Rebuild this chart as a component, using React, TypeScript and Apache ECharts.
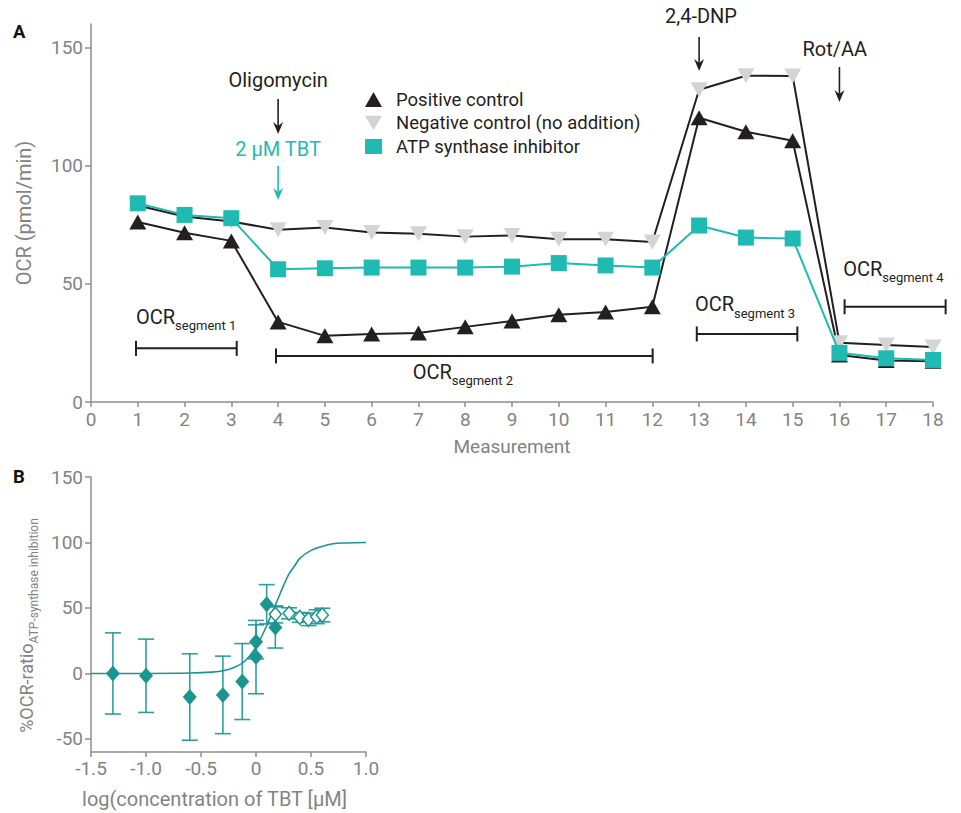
import React, { useEffect, useRef } from "react";
import * as echarts from "echarts";

// ---------- Panel A data ----------
const measurements = [1, 2, 3, 4, 5, 6, 7, 8, 9, 10, 11, 12, 13, 14, 15, 16, 17, 18];
const positiveControl = [76.2, 71.6, 68.2, 33.9, 28.0, 28.8, 29.2, 31.8, 34.3, 36.9, 38.1, 40.3, 120.3, 114.4, 110.6, 19.9, 17.6, 17.3];
const negativeControl = [83.2, 78.5, 76.4, 72.9, 73.9, 71.7, 71.2, 70.0, 70.5, 68.9, 68.9, 67.7, 132.2, 138.1, 138.0, 25.1, 24.1, 23.3];
const atpSynthaseInhibitor = [84.1, 79.2, 77.8, 56.2, 56.6, 56.9, 56.9, 56.9, 57.3, 58.8, 57.8, 56.9, 74.7, 69.6, 69.2, 20.8, 18.5, 17.8];
const seriesNamesA = ["Positive control", "Negative control (no addition)", "ATP synthase inhibitor"];
const yTicksA = [0, 50, 100, 150];

// ---------- Panel B data ----------
const tbtLogConc = [-1.301, -1.0, -0.602, -0.301, -0.125, 0, 0, 0.097, 0.176];
const inhibitionMean = [0, -1.8, -18.0, -16.4, -6.2, 12.5, 24.1, 52.8, 35.1];
const inhibitionErr = [31, 28, 33, 29.6, 29, 28, 13, 15, 15.7];
const tbtLogConcHigh = [0.176, 0.301, 0.398, 0.477, 0.552, 0.603];
const inhibitionHigh = [45.1, 45.9, 42.8, 41.3, 43.3, 44.6];
const inhibitionHighErr = [6.5, 4.2, 3.7, 4.8, 5.3, 5.2];
const fitLogConc = [-1.5, -1.0, -0.6, -0.4, -0.3, -0.2, -0.1, 0, 0.05, 0.1, 0.15, 0.2, 0.25, 0.3, 0.35, 0.4, 0.5, 0.6, 0.7, 0.8, 1.0];
const fitInhibition = [0, 0, 0.3, 1, 2, 4.5, 9.5, 20, 28, 37, 47, 57, 67, 76, 82, 88, 94, 97, 99, 99.6, 100];
const yTicksB = [-50, 0, 50, 100, 150];

// ---------- Colours ----------
const BLACK = "#231f20";
const GRAY_MARK = "#d4d4d4";
const TEAL_A = "#1fbab1";
const TEAL_B = "#1b9590";
const AXIS = "#8e8e8e";
const LABEL = "#838383";
const FONT = "Roboto";

// ---------- Annotations (panel A, data coordinates) ----------
const injectionLabels = [
  { text: "Oligomycin", x: 4, y: 136.2, color: BLACK },
  { text: "2 µM TBT", x: 4, y: 106.9, color: TEAL_A },
  { text: "2,4-DNP", x: 13.04, y: 163.2, color: BLACK },
  { text: "Rot/AA", x: 15.9, y: 149.6, color: BLACK },
];
const injectionArrows = [
  { x: 4, yTop: 128.3, yBottom: 113.4, color: BLACK },
  { x: 4, yTop: 99.9, yBottom: 85.5, color: TEAL_A },
  { x: 13, yTop: 154.5, yBottom: 140.1, color: BLACK },
  { x: 16, yTop: 141.8, yBottom: 127.0, color: BLACK },
];
const segmentBrackets = [
  { x1: 0.962, x2: 3.115, y: 22.7 },
  { x1: 3.955, x2: 12.007, y: 19.5 },
  { x1: 12.95, x2: 15.1, y: 28.8 },
  { x1: 16.11, x2: 18.27, y: 40.3 },
];
const segmentLabels = [
  { sub: "segment 1", x: 0.962, y: 36.0 },
  { sub: "segment 2", x: 6.877, y: 12.8 },
  { sub: "segment 3", x: 12.91, y: 41.3 },
  { sub: "segment 4", x: 16.08, y: 56.3 },
];

type Annot =
  | { kind: "label"; i: number }
  | { kind: "arrow"; i: number }
  | { kind: "bracket"; i: number }
  | { kind: "segment"; i: number };

const annots: Annot[] = [
  ...injectionLabels.map((_, i) => ({ kind: "label" as const, i })),
  ...injectionArrows.map((_, i) => ({ kind: "arrow" as const, i })),
  ...segmentBrackets.map((_, i) => ({ kind: "bracket" as const, i })),
  ...segmentLabels.map((_, i) => ({ kind: "segment" as const, i })),
];

function renderAnnotation(params: any, api: any) {
  const a = annots[params.dataIndex];
  if (a.kind === "label") {
    const l = injectionLabels[a.i];
    const p = api.coord([l.x, l.y]);
    return {
      type: "text",
      x: p[0],
      y: p[1],
      style: { text: l.text, fill: l.color, fontSize: 20, fontFamily: FONT, align: "center", verticalAlign: "middle" },
    };
  }
  if (a.kind === "arrow") {
    const r = injectionArrows[a.i];
    const t = api.coord([r.x, r.yTop]);
    const b = api.coord([r.x, r.yBottom]);
    const x = t[0];
    return {
      type: "group",
      children: [
        { type: "line", shape: { x1: x, y1: t[1], x2: x, y2: b[1] - 6 }, style: { stroke: r.color, lineWidth: 1.6 } },
        {
          type: "polygon",
          shape: { points: [[x, b[1]], [x - 5, b[1] - 12], [x, b[1] - 8], [x + 5, b[1] - 12]] },
          style: { fill: r.color },
        },
      ],
    };
  }
  if (a.kind === "bracket") {
    const br = segmentBrackets[a.i];
    const l = api.coord([br.x1, br.y]);
    const r = api.coord([br.x2, br.y]);
    const st = { stroke: BLACK, lineWidth: 2 };
    return {
      type: "group",
      children: [
        { type: "line", shape: { x1: l[0], y1: l[1], x2: r[0], y2: r[1] }, style: st },
        { type: "line", shape: { x1: l[0], y1: l[1] - 7.5, x2: l[0], y2: l[1] + 7.5 }, style: st },
        { type: "line", shape: { x1: r[0], y1: r[1] - 7.5, x2: r[0], y2: r[1] + 7.5 }, style: st },
      ],
    };
  }
  const s = segmentLabels[a.i];
  const p = api.coord([s.x, s.y]);
  return {
    type: "text",
    x: p[0],
    y: p[1],
    style: {
      text: `{m|OCR}{s|${s.sub}}`,
      fill: BLACK,
      align: "left",
      verticalAlign: "middle",
      rich: {
        m: { fontSize: 20, fontFamily: FONT, fill: BLACK, color: BLACK },
        s: { fontSize: 13, fontFamily: FONT, fill: BLACK, color: BLACK, padding: [18, 0, 0, 0] },
      },
    },
  };
}

function errorBars(xs: number[], ys: number[], es: number[]) {
  return xs.map((x, i) => [x, ys[i], es[i]]);
}

function renderErrorBar(params: any, api: any) {
  const x = api.value(0);
  const y = api.value(1);
  const e = api.value(2);
  const top = api.coord([x, y + e]);
  const bot = api.coord([x, y - e]);
  const hw = 8;
  const st = { stroke: TEAL_B, lineWidth: 1.6, opacity: 0.9 };
  return {
    type: "group",
    children: [
      { type: "line", shape: { x1: top[0], y1: top[1], x2: bot[0], y2: bot[1] }, style: st },
      { type: "line", shape: { x1: top[0] - hw, y1: top[1], x2: top[0] + hw, y2: top[1] }, style: st },
      { type: "line", shape: { x1: bot[0] - hw, y1: bot[1], x2: bot[0] + hw, y2: bot[1] }, style: st },
    ],
  };
}

const axisLineStyle = { color: AXIS, width: 1.5 };
const labelStyle = { fontSize: 19, color: LABEL, fontFamily: FONT };
const nameStyle = { fontSize: 20, color: LABEL, fontFamily: FONT };

const DOWN_TRIANGLE = "path://M0,0L20,0L10,17Z";

const option: any = {
  animation: false,
  backgroundColor: "#fff",
  textStyle: { fontFamily: FONT },
  grid: [
    { left: 91, right: 28, top: 24, bottom: 411 },
    { left: 91, right: 595, top: 477, bottom: 61 },
  ],
  legend: {
    left: 360,
    top: 85,
    orient: "vertical",
    itemWidth: 17,
    itemHeight: 15,
    itemGap: 4.5,
    selectedMode: false,
    itemStyle: { borderWidth: 0 },
    textStyle: { fontSize: 18.5, color: BLACK, fontFamily: FONT, padding: [0, 0, 0, 9], lineHeight: 18 },
    data: [
      { name: seriesNamesA[0], icon: "triangle" },
      { name: seriesNamesA[1], icon: DOWN_TRIANGLE },
      { name: seriesNamesA[2], icon: "rect" },
    ],
  },
  xAxis: [
    {
      type: "value",
      gridIndex: 0,
      min: 0,
      max: 18,
      interval: 1,
      name: "Measurement",
      nameLocation: "middle",
      nameGap: 35,
      nameTextStyle: { ...nameStyle, fontSize: 19 },
      axisLine: { show: true, lineStyle: axisLineStyle },
      axisTick: { show: true, length: 5, lineStyle: axisLineStyle },
      axisLabel: { ...labelStyle, margin: 8 },
      splitLine: { show: false },
    },
    {
      type: "value",
      gridIndex: 1,
      min: -1.5,
      max: 1.0,
      interval: 0.5,
      name: "log(concentration of TBT [µM]",
      nameLocation: "middle",
      nameGap: 37,
      nameTextStyle: { ...nameStyle, padding: [0, 28, 0, 0] },
      axisLine: { show: true, onZero: false, lineStyle: axisLineStyle },
      axisTick: { show: true, length: 5, lineStyle: axisLineStyle },
      axisLabel: {
        ...labelStyle,
        margin: 7,
        formatter: (v: number) => (v === 0 ? "0" : v.toFixed(1)),
      },
      splitLine: { show: false },
    },
  ],
  yAxis: [
    {
      type: "value",
      gridIndex: 0,
      min: 0,
      max: 160,
      name: "OCR (pmol/min)",
      nameLocation: "middle",
      nameRotate: 90,
      nameGap: 57,
      nameTextStyle: { ...nameStyle },
      axisLine: { show: true, lineStyle: axisLineStyle },
      axisTick: { show: true, length: 6, lineStyle: axisLineStyle, customValues: yTicksA },
      axisLabel: { ...labelStyle, margin: 8, customValues: yTicksA },
      splitLine: { show: false },
    },
    {
      type: "value",
      gridIndex: 1,
      min: -60,
      max: 150,
      name: "{m|%OCR-ratio}{s|ATP-synthase inhibition}",
      nameLocation: "middle",
      nameRotate: 90,
      nameGap: 51,
      nameTextStyle: {
        ...labelStyle,
        padding: [0, 22, 0, 0],
        rich: {
          m: { fontSize: 18, color: LABEL, fontFamily: FONT },
          s: { fontSize: 12, color: LABEL, fontFamily: FONT, padding: [16, 0, 0, 0] },
        },
      },
      axisLine: { show: true, onZero: false, lineStyle: axisLineStyle },
      axisTick: { show: true, length: 6, lineStyle: axisLineStyle, customValues: yTicksB },
      axisLabel: { ...labelStyle, margin: 8, customValues: yTicksB },
      splitLine: { show: false },
    },
  ],
  series: [
    {
      name: seriesNamesA[0],
      type: "line",
      xAxisIndex: 0,
      yAxisIndex: 0,
      data: measurements.map((m, i) => [m, positiveControl[i]]),
      symbol: "triangle",
      symbolSize: [17, 15],
      showAllSymbol: true,
      lineStyle: { color: BLACK, width: 2 },
      itemStyle: { color: BLACK, borderWidth: 0 },
      z: 2,
    },
    {
      name: seriesNamesA[1],
      type: "line",
      xAxisIndex: 0,
      yAxisIndex: 0,
      data: measurements.map((m, i) => [m, negativeControl[i]]),
      symbol: DOWN_TRIANGLE,
      symbolSize: [17, 15],
      showAllSymbol: true,
      lineStyle: { color: BLACK, width: 2 },
      itemStyle: { color: GRAY_MARK, borderWidth: 0 },
      z: 3,
    },
    {
      name: seriesNamesA[2],
      type: "line",
      xAxisIndex: 0,
      yAxisIndex: 0,
      data: measurements.map((m, i) => [m, atpSynthaseInhibitor[i]]),
      symbol: "rect",
      symbolSize: 16,
      showAllSymbol: true,
      lineStyle: { color: TEAL_A, width: 2 },
      itemStyle: { color: TEAL_A, borderWidth: 0 },
      z: 4,
    },
    {
      type: "custom",
      xAxisIndex: 0,
      yAxisIndex: 0,
      clip: false,
      silent: true,
      renderItem: renderAnnotation,
      data: annots.map((_, i) => [i, 0]),
      encode: { x: -1, y: -1 },
      z: 5,
    },
    // Panel B
    {
      type: "line",
      xAxisIndex: 1,
      yAxisIndex: 1,
      data: fitLogConc.map((x, i) => [x, fitInhibition[i]]),
      smooth: 0.35,
      showSymbol: false,
      lineStyle: { color: TEAL_B, width: 1.6 },
      z: 2,
    },
    {
      type: "custom",
      xAxisIndex: 1,
      yAxisIndex: 1,
      renderItem: renderErrorBar,
      data: errorBars(tbtLogConc, inhibitionMean, inhibitionErr),
      encode: { x: 0, y: 1 },
      z: 3,
    },
    {
      type: "custom",
      xAxisIndex: 1,
      yAxisIndex: 1,
      renderItem: renderErrorBar,
      data: errorBars(tbtLogConcHigh, inhibitionHigh, inhibitionHighErr),
      encode: { x: 0, y: 1 },
      z: 3,
    },
    {
      type: "scatter",
      xAxisIndex: 1,
      yAxisIndex: 1,
      data: tbtLogConc.map((x, i) => [x, inhibitionMean[i]]),
      symbol: "diamond",
      symbolSize: [14, 16],
      itemStyle: { color: TEAL_B, opacity: 1 },
      z: 4,
    },
    {
      type: "scatter",
      xAxisIndex: 1,
      yAxisIndex: 1,
      data: tbtLogConcHigh.map((x, i) => [x, inhibitionHigh[i]]),
      symbol: "diamond",
      symbolSize: [12, 14],
      itemStyle: { color: "#ffffff", borderColor: TEAL_B, borderWidth: 1.5, opacity: 1 },
      z: 4,
    },
  ],
  graphic: [
    { type: "text", left: 13, top: 22, style: { text: "A", fontSize: 18.5, fontWeight: "bold", fill: "#111", fontFamily: FONT } },
    { type: "text", left: 13, top: 467, style: { text: "B", fontSize: 18.5, fontWeight: "bold", fill: "#111", fontFamily: FONT } },
  ],
};

export default function App() {
  const ref = useRef<HTMLDivElement>(null);
  useEffect(() => {
    if (!ref.current) return;
    const chart = echarts.init(ref.current, null, { renderer: "svg" });
    chart.setOption(option);
    return () => chart.dispose();
  }, []);
  return (
    <div
      ref={ref}
      style={{ position: "absolute", left: 0, top: 0, width: 961, height: 813, background: "#fff" }}
    />
  );
}
